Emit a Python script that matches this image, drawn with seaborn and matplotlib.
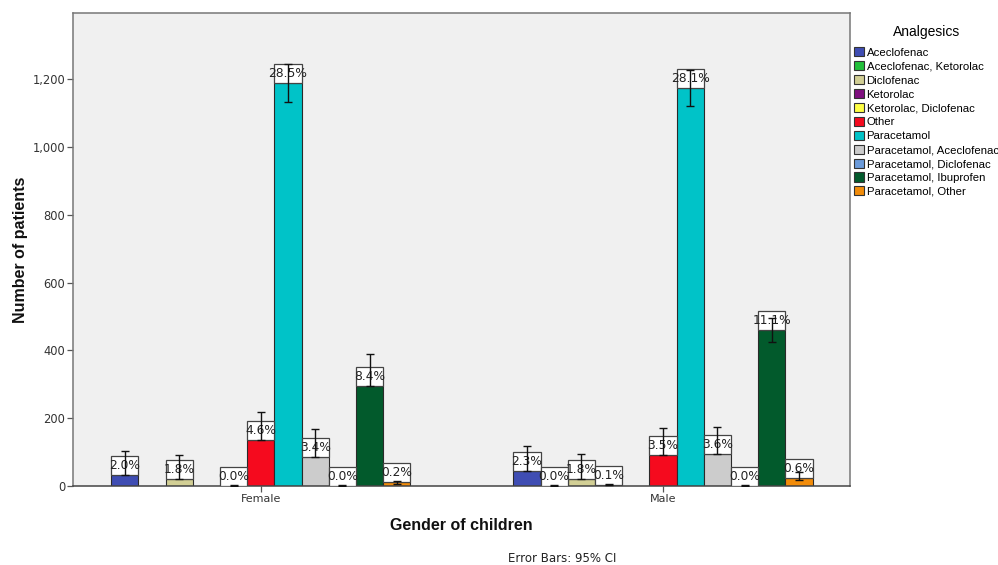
import numpy as np
import pandas as pd
import matplotlib
matplotlib.use("Agg")
import matplotlib.pyplot as plt
import seaborn as sns
from matplotlib.patches import Rectangle, Patch
from matplotlib.ticker import FuncFormatter

genders = ["Female", "Male"]
analgesics = ["Aceclofenac", "Aceclofenac, Ketorolac", "Diclofenac", "Ketorolac",
              "Ketorolac, Diclofenac", "Other", "Paracetamol", "Paracetamol, Aceclofenac",
              "Paracetamol, Diclofenac", "Paracetamol, Ibuprofen", "Paracetamol, Other"]
colors = ["#3F4DB3", "#22C03A", "#D2CF95", "#7F0F7F", "#FFFF44", "#F50A1E",
          "#00C3C8", "#CCCCCC", "#6B9BDB", "#025A2C", "#F28C0A"]

female_counts = [32, None, 21, None, 1, 136, 1188, 86, 1, 296, 11]
male_counts = [44, 1, 22, 3, None, 91, 1174, 95, 1, 460, 24]
female_ci_low = [32, None, 21, None, 1, 136, 1133, 86, 1, 296, 5]
female_ci_high = [104, None, 92, None, 3, 219, 1244, 167, 3, 388, 15]
male_ci_low = [44, 1, 22, 3, None, 91, 1121, 95, 1, 424, 18]
male_ci_high = [118, 3, 95, 6, None, 172, 1227, 175, 3, 496, 42]
female_labels = ["2.0%", None, "1.8%", None, "0.0%", "4.6%", "28.5%", "3.4%", "0.0%", "8.4%", "0.2%"]
male_labels = ["2.3%", "0.0%", "1.8%", "0.1%", None, "3.5%", "28.1%", "3.6%", "0.0%", "11.1%", "0.6%"]

rows = []
for g, cnts, lo, hi, lab in [("Female", female_counts, female_ci_low, female_ci_high, female_labels),
                             ("Male", male_counts, male_ci_low, male_ci_high, male_labels)]:
    for a, c, l, h, t in zip(analgesics, cnts, lo, hi, lab):
        if c is not None:
            rows.append({"Gender": g, "Analgesic": a, "Count": c, "Low": l, "High": h, "Label": t})
df = pd.DataFrame(rows)
palette = dict(zip(analgesics, colors))

W, H = 998, 565
fig = plt.figure(figsize=(W / 100, H / 100), dpi=100)
ax = fig.add_axes([73 / W, 1 - 486 / H, (850 - 73) / W, (486 - 13) / H])
ax.set_facecolor("#F0F0F0")

group_width = 0.744
sns.barplot(data=df, x="Gender", y="Count", hue="Analgesic", order=genders,
            hue_order=analgesics, palette=palette, width=group_width, errorbar=None,
            saturation=1, edgecolor="#2a2a2a", linewidth=0.8, legend=False, ax=ax, zorder=2)

ymax = 1395
ax.set_ylim(0, ymax)
ax.set_xlim(-0.467, 1.465)

nh = len(analgesics)
bw = group_width / nh
box_h = 19 * ymax / 473.0
for p in list(ax.patches):
    xc = p.get_x() + p.get_width() / 2
    cat = int(round(xc))
    k = int(round((xc - cat + group_width / 2 - bw / 2) / bw))
    row = df[(df.Gender == genders[cat]) & (df.Analgesic == analgesics[k])].iloc[0]
    top = p.get_height()
    ax.add_patch(Rectangle((p.get_x(), top), p.get_width(), box_h, facecolor="white",
                           edgecolor="#444444", linewidth=0.9, zorder=3))
    ax.text(xc, top + box_h / 2, row.Label, ha="center", va="center", fontsize=8.8,
            color="#222222", zorder=4)
    ax.errorbar([xc], [top], yerr=[[top - row.Low], [row.High - top]], fmt="none",
                ecolor="#111111", elinewidth=1.0, capsize=3, capthick=1.0, zorder=5)

ax.set_yticks([0, 200, 400, 600, 800, 1000, 1200])
ax.yaxis.set_major_formatter(FuncFormatter(lambda v, _: f"{int(v):,}"))
ax.tick_params(axis="y", direction="out", length=4, width=0.9, color="#555555",
               labelsize=8.3, labelcolor="#333333", pad=1.5)
ax.tick_params(axis="x", direction="out", length=4, width=0.9, color="#555555",
               labelsize=8, labelcolor="#333333", pad=2)
for s in ["left", "top", "right"]:
    ax.spines[s].set_color("#777777")
    ax.spines[s].set_linewidth(1.1)
ax.spines["bottom"].set_color("#444444")
ax.spines["bottom"].set_linewidth(1.1)

ax.set_xlabel("Gender of children", fontsize=11.5, fontweight="bold", labelpad=10,
              color="#111111", family="Liberation Sans")
ax.set_ylabel("Number of patients", fontsize=11.5, fontweight="bold", labelpad=3,
              color="#111111", family="Liberation Sans")

fig.text(562 / W, 1 - 559 / H, "Error Bars: 95% CI", ha="center", va="center",
         fontsize=8.5, color="#222222")

handles = [Patch(facecolor=palette[a], edgecolor="#333333", linewidth=0.8) for a in analgesics]
leg = fig.legend(handles, analgesics, loc="upper left", bbox_to_anchor=(854 / W, 1 - 25 / H),
                 frameon=False, title="Analgesics",
                 prop={"family": "Liberation Sans", "size": 8.2},
                 title_fontproperties={"family": "Liberation Sans", "size": 10},
                 handlelength=0.85, handleheight=0.85, handletextpad=0.25, labelspacing=0.3,
                 borderpad=0, borderaxespad=0)
leg._legend_box.sep = 6

fig.savefig("out.png", dpi=100, facecolor="white")
